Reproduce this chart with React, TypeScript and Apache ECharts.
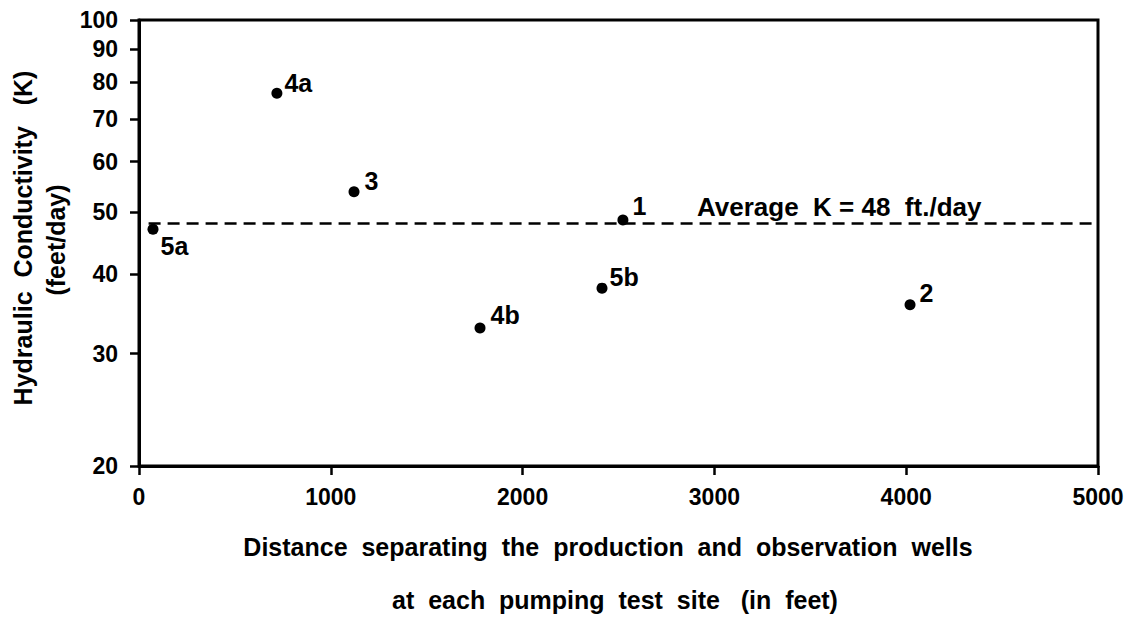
import React, { useEffect, useRef } from "react";
import * as echarts from "echarts";

const wellLabels = ["5a", "4a", "3", "4b", "5b", "1", "2"];
const distanceFt = [73, 719, 1121, 1778, 2414, 2523, 4020];
const conductivityK = [47.0, 76.8, 53.8, 32.9, 38.0, 48.6, 35.8];
const averageK = 48;
const averageLineStart = 50;
const xTicks = [0, 1000, 2000, 3000, 4000, 5000];
const yTicks = [20, 30, 40, 50, 60, 70, 80, 90, 100];
const averageText = "Average  K = 48  ft./day";
const yTitle1 = "Hydraulic  Conductivity   (K)";
const yTitle2 = "(feet/day)";
const xTitle1 = "Distance  separating  the  production  and  observation  wells";
const xTitle2 = "at  each  pumping  test  site   (in  feet)";

const FONT = "Liberation Sans";

// label offsets (style only)
const labelOffsets: Record<string, number[]> = {
  "5a": [0, 17],
  "4a": [0, -10],
  "3": [3, -11],
  "4b": [3, -13],
  "5b": [0, -11],
  "1": [2, -14],
  "2": [2, -12],
};

export default function App() {
  const ref = useRef<HTMLDivElement>(null);
  useEffect(() => {
    if (!ref.current) return;
    const chart = echarts.init(ref.current, null, { renderer: "svg" });
    const points = wellLabels.map((n, i) => ({
      name: n,
      value: [distanceFt[i], conductivityK[i]],
      label: { offset: labelOffsets[n] },
    }));
    const textStyle = { fontFamily: FONT, fontWeight: "bold" as const, color: "#000" };
    chart.setOption({
      animation: false,
      grid: {
        left: 139,
        right: 33,
        top: 20,
        bottom: 154,
        show: true,
        borderColor: "#000",
        borderWidth: 3,
        backgroundColor: "transparent",
      },
      xAxis: {
        type: "value",
        min: 0,
        max: 5000,
        interval: 1000,
        axisLine: { show: true, lineStyle: { color: "#000", width: 3 } },
        axisTick: { show: true, length: 9, lineStyle: { color: "#000", width: 2.5 }, customValues: xTicks },
        axisLabel: {
          ...textStyle,
          fontSize: 23,
          margin: 19,
          customValues: xTicks,
          formatter: (v: number) => String(v),
        },
        splitLine: { show: false },
      },
      yAxis: {
        type: "log",
        logBase: 10,
        min: 20,
        max: 100,
        axisLine: { show: true, lineStyle: { color: "#000", width: 3 } },
        axisTick: { show: true, length: 9, lineStyle: { color: "#000", width: 2.5 }, customValues: yTicks },
        axisLabel: {
          ...textStyle,
          fontSize: 23,
          margin: 21,
          customValues: yTicks,
          formatter: (v: number) => String(Math.round(v)),
        },
        splitLine: { show: false },
        minorTick: { show: false },
      },
      series: [
        {
          type: "scatter",
          data: points,
          symbol: "circle",
          symbolSize: 11,
          itemStyle: { color: "#000", opacity: 1 },
          label: {
            show: true,
            position: "right",
            distance: 2,
            formatter: "{b}",
            ...textStyle,
            fontSize: 25,
          },
          markLine: {
            silent: true,
            symbol: "none",
            label: { show: false },
            lineStyle: { color: "#000", width: 2.5, type: [12, 7], opacity: 1 },
            data: [[{ coord: [averageLineStart, averageK] }, { coord: [5000, averageK] }]],
          },
          z: 3,
        },
      ],
      graphic: [
        {
          type: "text",
          x: 697,
          y: 207,
          style: {
            text: averageText,
            font: `bold 26px "${FONT}"`,
            fill: "#000",
            verticalAlign: "middle",
          },
        },
        {
          type: "text",
          x: 23,
          y: 238,
          rotation: Math.PI / 2,
          style: {
            text: yTitle1,
            font: `bold 25px "${FONT}"`,
            fill: "#000",
            align: "center",
            verticalAlign: "middle",
          },
        },
        {
          type: "text",
          x: 56,
          y: 240,
          rotation: Math.PI / 2,
          style: {
            text: yTitle2,
            font: `bold 25px "${FONT}"`,
            fill: "#000",
            align: "center",
            verticalAlign: "middle",
          },
        },
        {
          type: "text",
          x: 608,
          y: 547,
          style: {
            text: xTitle1,
            font: `bold 25px "${FONT}"`,
            fill: "#000",
            align: "center",
            verticalAlign: "middle",
          },
        },
        {
          type: "text",
          x: 615,
          y: 600,
          style: {
            text: xTitle2,
            font: `bold 25px "${FONT}"`,
            fill: "#000",
            align: "center",
            verticalAlign: "middle",
          },
        },
      ],
    });
    return () => chart.dispose();
  }, []);
  return (
    <div
      ref={ref}
      style={{ width: 1131, height: 620, position: "absolute", left: 0, top: 0, background: "#fff" }}
    />
  );
}
